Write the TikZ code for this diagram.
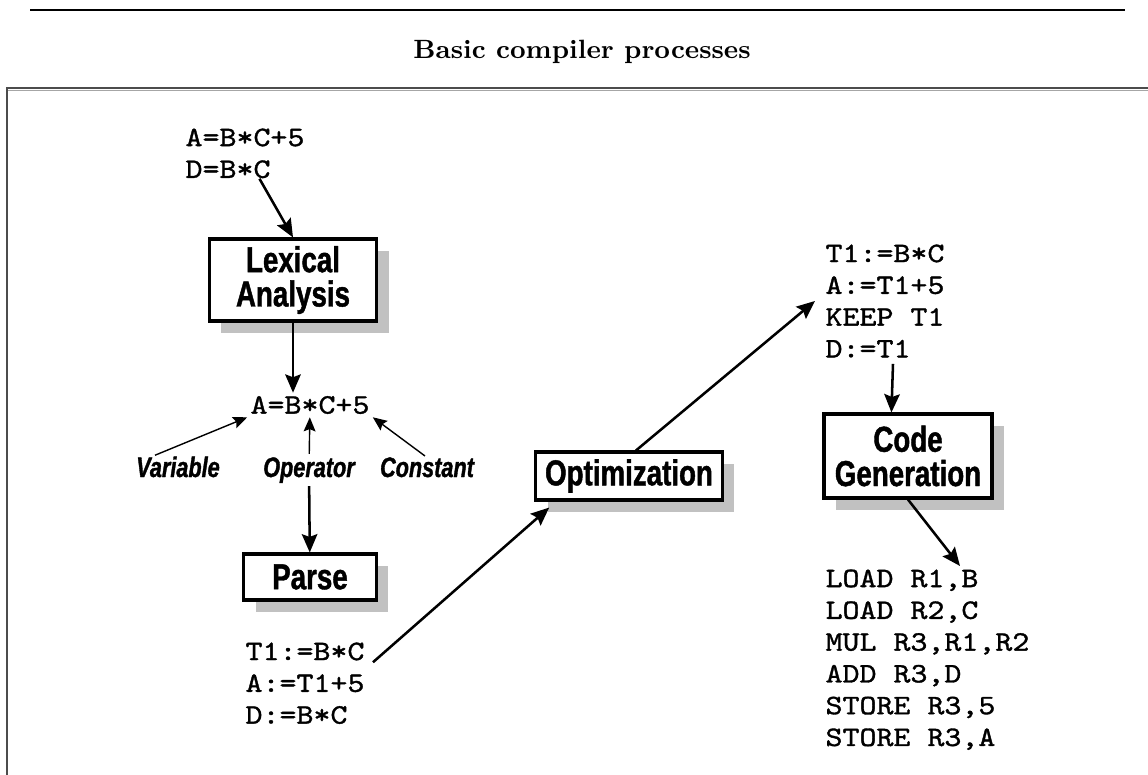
\documentclass[tikz,border=0pt]{standalone}
\usepackage{fontspec}
\usepackage{tikz}
\usetikzlibrary{arrows.meta,calc,shadows}
\newfontfamily\codefont{lmmono10-regular.otf}[FakeStretch=1.15,FakeBold=1.2]
\newfontfamily\boxfont{Liberation Sans}[FakeStretch=0.77,FakeBold=1.2]

\begin{document}
\begin{tikzpicture}[x=0.0125cm,y=-0.0125cm,
  stage/.style={draw,line width=1.1pt,fill=white,align=center,inner sep=0pt,
    font=\boxfont\fontsize{12.8}{12.2}\selectfont\bfseries,
    drop shadow={shadow xshift=0.15cm,shadow yshift=-0.15cm,fill=black!35,opacity=0.7}},
  code/.style={align=left,inner sep=0pt,font=\codefont\fontsize{10}{11.3}\selectfont},
  tag/.style={inner sep=1pt,font=\boxfont\fontsize{10}{11}\selectfont\bfseries\itshape},
  arr/.style={-{Stealth[length=6.5pt,width=5.5pt,inset=1pt]},line width=0.9pt},
  thinarr/.style={-{Stealth[length=5pt,width=4.2pt,inset=0.8pt]},line width=0.5pt}]
\useasboundingbox (0,0) rectangle (1148,775);
\draw[line width=0.5pt] (30,10) -- (1125,10);
\node[font=\fontsize{9.4}{11}\selectfont\bfseries] (title) at (582,52) {Basic compiler processes};
\draw[line width=0.7pt,black!70] (7,775) -- (7,88) -- (1148,88);
\draw[line width=0.6pt,black!35] (8,90.5) -- (1148,90.5);

\node[code,anchor=north west] (src) at (185,128) {A=B*C+5\\D=B*C};
\node[stage,minimum width=2.09cm,minimum height=1.025cm] (lex) at (293,280) {Lexical\\Analysis};
\node[code,inner sep=1pt] (tok) at (310,405) {A=B*C+5};
\node[tag,anchor=base] (var) at (178,477) {Variable};
\node[tag,anchor=base] (op) at (309,477) {Operator};
\node[tag,anchor=base] (const) at (427,477) {Constant};
\node[stage,minimum width=1.66cm,minimum height=0.575cm] (parse) at (310,577) {Parse};
\node[code,anchor=north west] (ir) at (245,642) {T1:=B*C\\A:=T1+5\\D:=B*C};
\node[stage,minimum width=2.33cm,minimum height=0.6cm] (opt) at (629,476) {Optimization};
\node[code,anchor=north west] (optir) at (825,244) {T1:=B*C\\A:=T1+5\\KEEP T1\\D:=T1};
\node[stage,minimum width=2.1cm,minimum height=1.05cm] (gen) at (908,456) {Code\\Generation};
\node[code,anchor=north west] (asm) at (825,569) {LOAD R1,B\\LOAD R2,C\\MUL R3,R1,R2\\ADD R3,D\\STORE R3,5\\STORE R3,A};

\draw[arr] (src) -- (lex.north);
\draw[arr] (lex) -- (lex |- tok.north);
\draw[thinarr] ($(var.north)+(-23,2)$) -- (tok.south west);
\draw[thinarr] (op) -- (tok);
\draw[thinarr] ($(const.north)+(-2,2)$) -- (tok.south east);
\draw[arr] (op) -- (parse);
\draw[arr] ($(ir.east)+(8,-21)$) -- ($(opt.south west)+(15,6)$);
\draw[arr] ($(opt.north)+(7,0)$) -- ($(optir.west)+(-10,0)$);
\draw[arr] ($(optir.south west)+(68,6)$) -- ($(gen.north west)+(69,0)$);
\draw[arr] (gen.south) -- ($(asm.north west)+(135,-3)$);
\end{tikzpicture}
\end{document}
